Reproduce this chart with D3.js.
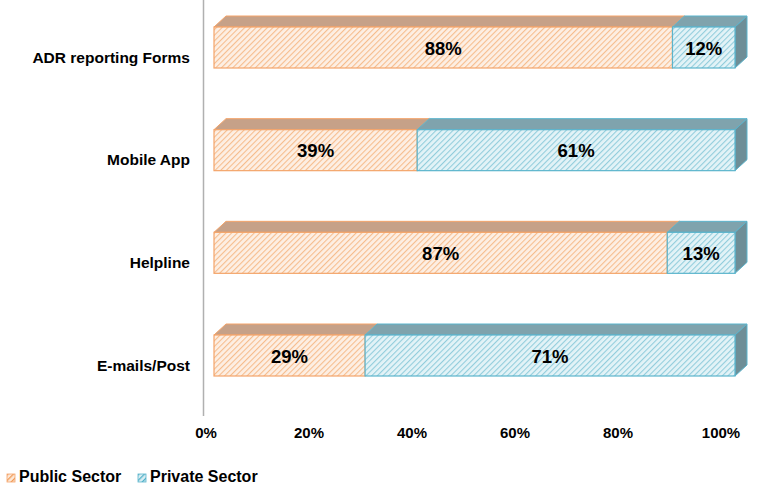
<!DOCTYPE html>
<html>
<head>
<meta charset="utf-8">
<script src="https://cdn.jsdelivr.net/npm/d3@7"></script>
<style>
  body { margin: 0; background: #fff; }
  text { font-family: Arial, "Liberation Sans", sans-serif; font-weight: bold; }
</style>
</head>
<body>
<div id="chart"></div>
<script>
// chart data
const categories = ["ADR reporting Forms", "Mobile App", "Helpline", "E-mails/Post"];
const publicSector = [88, 39, 87, 29];
const privateSector = [12, 61, 13, 71];
const tickValues = [0, 20, 40, 60, 80, 100];
const seriesNames = ["Public Sector", "Private Sector"];

const width = 765, height = 492;
const depthX = 12, depthY = 11;
const barH = 41;

const svg = d3.select("#chart")
  .append("svg")
  .attr("width", width)
  .attr("height", height);

// hatch patterns
const defs = svg.append("defs");
let makeHatch = (id, bg, line, w) => {
  const p = defs.append("pattern")
    .attr("id", id)
    .attr("patternUnits", "userSpaceOnUse")
    .attr("width", 4).attr("height", 4)
    .attr("patternTransform", "rotate(45)");
  p.append("rect").attr("width", 4).attr("height", 4).attr("fill", bg);
  p.append("line").attr("x1", 0).attr("y1", 0).attr("x2", 0).attr("y2", 4)
    .attr("stroke", line).attr("stroke-width", w);
};
makeHatch("hatchPublic", "#fdefe4", "#f6bd8e", 2.2);
makeHatch("hatchPrivate", "#e3f3f7", "#92cddc", 2.2);
makeHatch("legendPublic", "#fde9d9", "#f09a55", 2.6);
makeHatch("legendPrivate", "#daeef3", "#4fb0c8", 2.6);

const styles = [
  { front: "url(#hatchPublic)", legend: "url(#legendPublic)", stroke: "#f4a46a", top: "#c6a188", side: "#b08c74" },
  { front: "url(#hatchPrivate)", legend: "url(#legendPrivate)", stroke: "#5bb4cc", top: "#7fa3ad", side: "#6e8e97" }
];

// scales
const x = d3.scaleLinear().domain([0, 100]).range([214, 735]);
const xAxisScale = d3.scaleLinear().domain([0, 100]).range([206, 721]);
const y = d3.scalePoint().domain(categories).range([47.5, 355.5]);

// vertical axis line
svg.append("line")
  .attr("x1", 203.5).attr("x2", 203.5)
  .attr("y1", 0).attr("y2", 416)
  .attr("stroke", "#b0b0b0").attr("stroke-width", 1.5);

// stacked segments
const stacked = categories.map((c, i) => {
  const vals = [publicSector[i], privateSector[i]];
  let acc = 0;
  return vals.map((v, k) => {
    const s = { cat: c, k: k, x0: acc, x1: acc + v, v: v };
    acc += v;
    return s;
  });
});

stacked.forEach(segs => {
  const g = svg.append("g");
  const yTop = y(segs[0].cat) - barH / 2;
  segs.forEach((s, idx) => {
    const st = styles[s.k];
    const a = x(s.x0), b = x(s.x1);
    // top face
    g.append("path")
      .attr("d", `M${a},${yTop}L${a + depthX},${yTop - depthY}L${b + depthX},${yTop - depthY}L${b},${yTop}Z`)
      .attr("fill", st.top).attr("stroke", st.stroke).attr("stroke-width", 1);
    // side face on the end
    if (idx === segs.length - 1) {
      g.append("path")
        .attr("d", `M${b},${yTop}L${b + depthX},${yTop - depthY}L${b + depthX},${yTop + barH - depthY}L${b},${yTop + barH}Z`)
        .attr("fill", st.side).attr("stroke", st.stroke).attr("stroke-width", 1);
    }
    // front face
    g.append("rect")
      .attr("x", a).attr("y", yTop)
      .attr("width", b - a).attr("height", barH)
      .attr("fill", st.front).attr("stroke", st.stroke).attr("stroke-width", 1.2);
    // value label
    g.append("text")
      .attr("x", (a + b) / 2).attr("y", yTop + barH / 2 + 7)
      .attr("text-anchor", "middle")
      .attr("font-size", 18.5)
      .attr("fill", "#000")
      .text(s.v + "%");
  });
});

// category labels
svg.selectAll(".cat")
  .data(categories)
  .enter().append("text")
  .attr("class", "cat")
  .attr("x", 190)
  .attr("y", d => y(d) + 15)
  .attr("text-anchor", "end")
  .attr("font-size", 15.5)
  .attr("fill", "#000")
  .text(d => d);

// x tick labels
svg.selectAll(".tick-label")
  .data(tickValues)
  .enter().append("text")
  .attr("class", "tick-label")
  .attr("x", d => xAxisScale(d))
  .attr("y", 438)
  .attr("text-anchor", "middle")
  .attr("font-size", 15)
  .attr("fill", "#000")
  .text(d => d + "%");

// legend
const legend = svg.append("g").attr("transform", "translate(7,474)");
let lx = 0;
seriesNames.forEach((name, i) => {
  const item = legend.append("g").attr("transform", `translate(${lx},0)`);
  item.append("rect")
    .attr("x", 0).attr("y", 0).attr("width", 8).attr("height", 8)
    .attr("fill", styles[i].legend).attr("stroke", styles[i].stroke).attr("stroke-width", 0.8);
  item.append("text")
    .attr("x", 12).attr("y", 8)
    .attr("font-size", 16)
    .attr("fill", "#000")
    .text(name);
  lx += 131;
});
</script>
</body>
</html>
